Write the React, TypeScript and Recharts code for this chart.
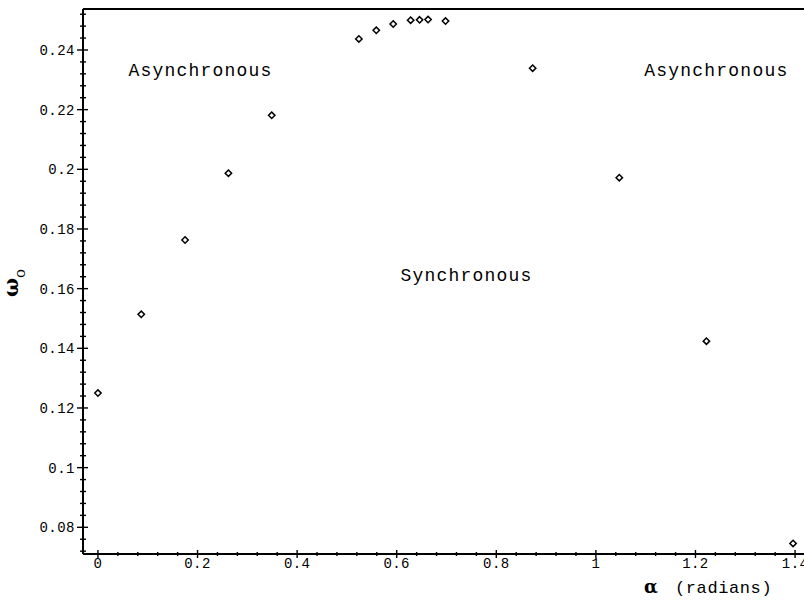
import React from 'react';
import { ScatterChart, Scatter, XAxis, YAxis, ReferenceLine, ReferenceDot } from 'recharts';

// sampled misalignment angle (radians) and the critical frequency at each one
const alpha = [0, 0.087, 0.175, 0.262, 0.349, 0.524, 0.559, 0.593, 0.628, 0.646, 0.663, 0.698, 0.873, 1.047, 1.222, 1.396];
const omega = [0.125, 0.1514, 0.1763, 0.1987, 0.2181, 0.2437, 0.2466, 0.2487, 0.25, 0.2501, 0.2502, 0.2497, 0.2339, 0.1972, 0.1424, 0.0746];

// region names placed in data space
const regionNames = ['Asynchronous', 'Asynchronous', 'Synchronous'];
const regionX = [0.206, 1.242, 0.74];
const regionY = [0.2313, 0.2313, 0.1627];

const X_DOMAIN: [number, number] = [-0.03, 1.43];
const Y_DOMAIN: [number, number] = [0.07105, 0.25374];
const X_MAJOR = 0.2;
const X_MINOR = 0.04;
const Y_MAJOR = 0.02;
const Y_MINOR = 0.004;

const MONO = '"Liberation Mono", "DejaVu Sans Mono", monospace';
const SERIF = '"DejaVu Serif", "Liberation Serif", serif';

const points = alpha.map((a, i) => ({ alpha: a, omega: omega[i] }));

const makeTicks = (from: number, to: number, step: number) => {
    const out: number[] = [];
    for (let k = Math.ceil(from / step - 1e-9); k * step <= to + 1e-9; k++) {
        out.push(Number((k * step).toFixed(4)));
    }
    return out;
};

const xTicks = makeTicks(0, X_DOMAIN[1], X_MINOR);
const yTicks = makeTicks(Y_DOMAIN[0], Y_DOMAIN[1], Y_MINOR);

const isMajor = (v: number, step: number) => Math.abs(v / step - Math.round(v / step)) < 1e-6;
const fmt = (v: number) => String(Number(v.toFixed(3)));

const XTick = (props: any) => {
    const { x, y, payload } = props;
    const major = isMajor(payload.value, X_MAJOR);
    return (
        <g>
            <line x1={x} x2={x} y1={y - (major ? 4 : 2)} y2={y + (major ? 4 : 2)} stroke="#000" strokeWidth={1.4} />
            {major && (
                <text x={x} y={y + 14} textAnchor="middle" fontFamily={MONO} fontSize={14} letterSpacing={0.4} fill="#000">
                    {fmt(payload.value)}
                </text>
            )}
        </g>
    );
};

const YTick = (props: any) => {
    const { x, y, payload } = props;
    const major = isMajor(payload.value, Y_MAJOR);
    return (
        <g>
            <line x1={x - (major ? 6 : 3)} x2={x + (major ? 5 : 3)} y1={y} y2={y} stroke="#000" strokeWidth={1.4} />
            {major && (
                <text x={x - 8} y={y} dy="0.35em" textAnchor="end" fontFamily={MONO} fontSize={14} letterSpacing={0.5} fill="#000">
                    {fmt(payload.value)}
                </text>
            )}
        </g>
    );
};

const Diamond = (props: any) => {
    const { cx, cy } = props;
    const r = 3.2;
    return (
        <polygon
            points={`${cx},${cy - r} ${cx + r},${cy} ${cx},${cy + r} ${cx - r},${cy}`}
            fill="#fff"
            stroke="#000"
            strokeWidth={1.5}
        />
    );
};

const App: React.FC = () => {
    return (
        <div style={{ position: 'fixed', left: 0, top: 0, width: 804, height: 601, overflow: 'hidden', background: '#fff' }}>
            <ScatterChart width={830} height={601} margin={{ top: 9, right: 20, bottom: 0, left: 0 }}>
                <XAxis
                    type="number"
                    dataKey="alpha"
                    domain={X_DOMAIN}
                    allowDataOverflow
                    ticks={xTicks}
                    interval={0}
                    height={47}
                    tickSize={0}
                    tickMargin={0}
                    tickLine={false}
                    tick={<XTick />}
                    axisLine={{ stroke: '#000', strokeWidth: 2 }}
                    label={{
                        content: () => (
                            <g>
                                <text x={644} y={593} fontFamily={SERIF} fontWeight="bold" fontSize={18} fill="#000">α</text>
                                <text x={675} y={593} fontFamily={MONO} fontSize={17} letterSpacing={0.6} fill="#000">(radians)</text>
                            </g>
                        ),
                    }}
                />
                <YAxis
                    type="number"
                    dataKey="omega"
                    domain={Y_DOMAIN}
                    allowDataOverflow
                    ticks={yTicks}
                    interval={0}
                    width={83}
                    tickSize={0}
                    tickMargin={0}
                    tickLine={false}
                    tick={<YTick />}
                    axisLine={{ stroke: '#000', strokeWidth: 2 }}
                    label={{
                        content: () => (
                            <text transform="rotate(-90 18 297)" x={18} y={297} fontFamily={SERIF} fontWeight="bold" fontSize={20} fill="#000">
                                ω<tspan fontSize={15} fontWeight="normal" dy={7}>o</tspan>
                            </text>
                        ),
                    }}
                />
                <ReferenceLine y={Y_DOMAIN[1]} stroke="#000" strokeWidth={2} />
                {regionNames.map((name, i) => (
                    <ReferenceDot
                        key={`region-${i}`}
                        x={regionX[i]}
                        y={regionY[i]}
                        shape={(p: any) => (
                            <text x={p.cx} y={p.cy} textAnchor="middle" fontFamily={MONO} fontSize={18} letterSpacing={1.2} fill="#000">
                                {name}
                            </text>
                        )}
                    />
                ))}
                <Scatter data={points} shape={<Diamond />} isAnimationActive={false} />
            </ScatterChart>
        </div>
    );
};

export default App;
